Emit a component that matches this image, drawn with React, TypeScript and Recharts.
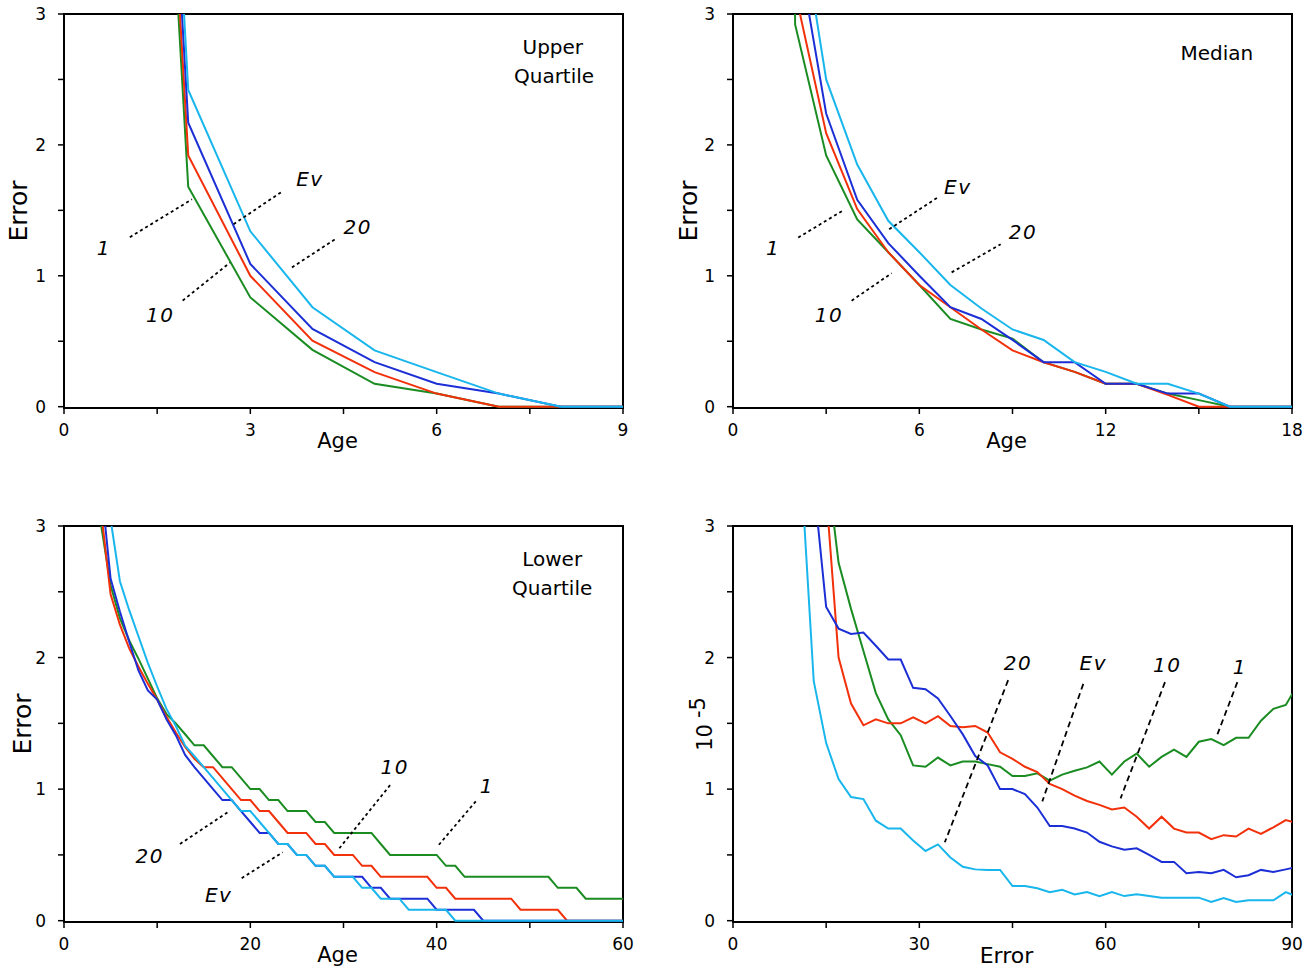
import React from "react";
import {
  LineChart,
  Line,
  XAxis,
  YAxis,
  ReferenceLine,
  ReferenceDot,
} from "recharts";

const FONT = '"DejaVu Sans", Verdana, sans-serif';
const GREEN = "#1a8c22";
const RED = "#f2300a";
const BLUE = "#1c2fd6";
const CYAN = "#18b6ec";

// Upper quartile panel
const uqAge = [1, 2, 3, 4, 5, 6, 7, 8, 9];
const uq1 = [10, 1.68, 0.835, 0.434, 0.175, 0.1, 0, 0, 0];
const uq10 = [10, 1.92, 1.0, 0.505, 0.264, 0.1, 0, 0, 0];
const uqEv = [10.4, 2.17, 1.09, 0.594, 0.34, 0.175, 0.1, 0, 0];
const uq20 = [11, 2.42, 1.34, 0.76, 0.43, 0.264, 0.1, 0, 0];

// Median panel
const medAge = [1, 2, 3, 4, 5, 6, 7, 8, 9, 10, 11, 12, 13, 14, 15, 16, 17, 18];
const med1 = [40, 2.92, 1.92, 1.43, 1.18, 0.93, 0.67, 0.59, 0.52, 0.34, 0.266, 0.175, 0.175, 0.1, 0.05, 0, 0, 0];
const med10 = [30, 3.17, 2.09, 1.51, 1.18, 0.93, 0.76, 0.59, 0.43, 0.34, 0.266, 0.175, 0.175, 0.09, 0, 0, 0, 0];
const medEv = [30, 3.62, 2.24, 1.58, 1.25, 1.0, 0.76, 0.67, 0.51, 0.34, 0.34, 0.175, 0.175, 0.1, 0.1, 0, 0, 0];
const med20 = [30, 4.0, 2.5, 1.85, 1.42, 1.18, 0.93, 0.75, 0.59, 0.51, 0.34, 0.266, 0.175, 0.175, 0.1, 0, 0, 0];

// Lower quartile panel
const lqAge = [
  3, 4, 5, 6, 7, 8, 9, 10,
  11, 12, 13, 14, 15, 16, 17, 18, 19, 20,
  21, 22, 23, 24, 25, 26, 27, 28, 29, 30,
  31, 32, 33, 34, 35, 36, 37, 38, 39, 40,
  41, 42, 43, 44, 45, 46, 47, 48, 49, 50,
  51, 52, 53, 54, 55, 56, 57, 58, 59, 60,
];
const lq1 = [
  3.6, 3.0, 2.55, 2.3, 2.13, 1.99, 1.84, 1.69,
  1.57, 1.5, 1.417, 1.333, 1.333, 1.25, 1.167, 1.167, 1.083, 1.0,
  1.0, 0.917, 0.917, 0.833, 0.833, 0.833, 0.75, 0.75, 0.667, 0.667,
  0.667, 0.667, 0.667, 0.583, 0.5, 0.5, 0.5, 0.5, 0.5, 0.5,
  0.417, 0.417, 0.333, 0.333, 0.333, 0.333, 0.333, 0.333, 0.333, 0.333,
  0.333, 0.333, 0.25, 0.25, 0.25, 0.167, 0.167, 0.167, 0.167, 0.167,
];
const lq10 = [
  3.8, 3.1, 2.48, 2.25, 2.07, 1.93, 1.8, 1.68,
  1.55, 1.43, 1.32, 1.23, 1.167, 1.167, 1.083, 1.0, 0.917, 0.917,
  0.833, 0.833, 0.75, 0.667, 0.667, 0.667, 0.583, 0.583, 0.5, 0.5,
  0.5, 0.417, 0.417, 0.333, 0.333, 0.333, 0.333, 0.333, 0.333, 0.25,
  0.25, 0.167, 0.167, 0.167, 0.167, 0.167, 0.167, 0.167, 0.083, 0.083,
  0.083, 0.083, 0.083, 0, 0, 0, 0, 0, 0, 0,
];
const lqEv = [
  4.0, 3.3, 2.6, 2.35, 2.12, 1.9, 1.75, 1.68,
  1.53, 1.41, 1.26, 1.167, 1.083, 1.0, 0.917, 0.917, 0.833, 0.75,
  0.667, 0.667, 0.583, 0.583, 0.5, 0.5, 0.417, 0.417, 0.333, 0.333,
  0.333, 0.333, 0.25, 0.25, 0.167, 0.167, 0.167, 0.167, 0.167, 0.083,
  0.083, 0.083, 0.083, 0.083, 0, 0, 0, 0, 0, 0,
  0, 0, 0, 0, 0, 0, 0, 0, 0, 0,
];
const lq20 = [
  4.6, 3.8, 3.05, 2.58, 2.36, 2.16, 1.96, 1.78,
  1.61, 1.48, 1.33, 1.25, 1.167, 1.083, 1.0, 0.917, 0.833, 0.833,
  0.75, 0.667, 0.583, 0.583, 0.5, 0.5, 0.417, 0.417, 0.333, 0.333,
  0.333, 0.25, 0.25, 0.167, 0.167, 0.167, 0.083, 0.083, 0.083, 0.083,
  0.083, 0, 0, 0, 0, 0, 0, 0, 0, 0,
  0, 0, 0, 0, 0, 0, 0, 0, 0, 0,
];

// Error panel (x 10^-5)
const errX = [
  9, 11, 13, 15, 17, 19, 21, 23, 25, 27,
  29, 31, 33, 35, 37, 39, 41, 43, 45, 47,
  49, 51, 53, 55, 57, 59, 61, 63, 65, 67,
  69, 71, 73, 75, 77, 79, 81, 83, 85, 87,
  89, 91,
];
const err1 = [
  20, 10, 5, 3.5, 2.72, 2.37, 2.05, 1.73, 1.53, 1.41,
  1.18, 1.17, 1.24, 1.18, 1.21, 1.21, 1.19, 1.17, 1.1, 1.1,
  1.12, 1.065, 1.11, 1.14, 1.165, 1.21, 1.11, 1.21, 1.27, 1.17,
  1.245, 1.3, 1.245, 1.36, 1.38, 1.335, 1.39, 1.39, 1.52, 1.61,
  1.64, 1.8,
];
const err10 = [
  15, 10, 6, 3.25, 2.0, 1.65, 1.485, 1.53, 1.5, 1.5,
  1.545, 1.5, 1.555, 1.48, 1.47, 1.48, 1.43, 1.28, 1.23, 1.17,
  1.13, 1.04, 1.0, 0.95, 0.91, 0.88, 0.845, 0.86, 0.79, 0.7,
  0.79, 0.7, 0.67, 0.67, 0.62, 0.65, 0.64, 0.7, 0.66, 0.71,
  0.765, 0.74,
];
const errEv = [
  8, 5, 3.33, 2.384, 2.22, 2.18, 2.19, 2.09, 1.985, 1.985,
  1.77, 1.76, 1.69, 1.556, 1.416, 1.252, 1.18, 1.0, 1.0, 0.962,
  0.86, 0.72, 0.72, 0.7, 0.67, 0.6, 0.565, 0.54, 0.55, 0.5,
  0.447, 0.447, 0.36, 0.37, 0.36, 0.386, 0.33, 0.346, 0.386, 0.37,
  0.39, 0.41,
];
const err20 = [
  6, 3.4, 1.82, 1.35, 1.076, 0.94, 0.924, 0.76, 0.7, 0.7,
  0.61, 0.53, 0.58, 0.48, 0.41, 0.39, 0.386, 0.386, 0.263, 0.263,
  0.247, 0.217, 0.235, 0.2, 0.217, 0.187, 0.217, 0.187, 0.2, 0.187,
  0.175, 0.175, 0.175, 0.175, 0.142, 0.172, 0.142, 0.155, 0.155, 0.155,
  0.217, 0.18,
];

const Y_TICKS = [0, 0.5, 1, 1.5, 2, 2.5, 3];
// a hair below zero so the flat zero-level runs show above the frame edge
const Y_DOMAIN: [number, number] = [-0.01, 3];

type Note = { text: string; x: number; y: number; italic?: boolean };
type Leader = { x1: number; y1: number; x2: number; y2: number };

interface PanelProps {
  left: number;
  top: number;
  plotH: number;
  xs: number[];
  s1: number[];
  s10: number[];
  sEv: number[];
  s20: number[];
  xMax: number;
  xTicks: number[];
  xEvery: number;
  xTitle: string;
  xTitleSize: number;
  yTitle: "error" | "exp";
  yTitleX: number;
  notes: Note[];
  leaders: Leader[];
  dash: string;
}

function XTitle(props: any) {
  const vb = props.viewBox;
  return (
    <text
      x={vb.x + vb.width / 2 - 6}
      y={vb.y + 33}
      textAnchor="middle"
      dominantBaseline="central"
      fontSize={props.size}
      fontFamily={FONT}
      fill="#000"
    >
      {props.text}
    </text>
  );
}

function YTitle(props: any) {
  const vb = props.viewBox;
  const cx = props.cx;
  const cy = vb.y + vb.height / 2;
  if (props.kind === "exp") {
    return (
      <text
        x={cx}
        y={cy}
        transform={`rotate(-90 ${cx} ${cy})`}
        textAnchor="middle"
        dominantBaseline="central"
        fontSize={21}
        fontFamily={FONT}
        fill="#000"
      >
        <tspan>10</tspan>
        <tspan dx={6} dy={-7}>-5</tspan>
      </text>
    );
  }
  return (
    <text
      x={cx}
      y={cy}
      transform={`rotate(-90 ${cx} ${cy})`}
      textAnchor="middle"
      dominantBaseline="central"
      fontSize={25}
      fontFamily={FONT}
      fill="#000"
    >
      Error
    </text>
  );
}

function Panel(p: PanelProps) {
  const rows = p.xs.map((x, i) => ({
    x,
    s1: p.s1[i],
    s10: p.s10[i],
    sEv: p.sEv[i],
    s20: p.s20[i],
  }));
  const tickStyle = { fill: "#000", fontSize: 17, fontFamily: FONT };
  return (
    <div style={{ position: "absolute", left: p.left, top: p.top }}>
      {/* plot frame sits behind the svg so zero-level segments stay visible */}
      <div
        style={{
          position: "absolute",
          left: 63,
          top: 13,
          width: 561,
          height: p.plotH + 2,
          border: "2px solid #000",
          boxSizing: "border-box",
        }}
      />
      <LineChart
        width={643}
        height={p.plotH + 74}
        data={rows}
        margin={{ top: 14, right: 20, bottom: 0, left: 0 }}
      >
        <XAxis
          type="number"
          dataKey="x"
          domain={[0, p.xMax]}
          allowDataOverflow
          ticks={p.xTicks}
          interval={0}
          tickFormatter={(v: number) => (v % p.xEvery === 0 ? String(v) : "")}
          height={60}
          axisLine={false}
          tickLine={{ stroke: "#000", strokeWidth: 1.5 }}
          tickSize={6}
          tickMargin={10}
          tick={tickStyle}
          label={{
            content: (lp: any) => (
              <XTitle {...lp} text={p.xTitle} size={p.xTitleSize} />
            ),
          }}
        />
        <YAxis
          type="number"
          domain={Y_DOMAIN}
          allowDataOverflow
          ticks={Y_TICKS}
          interval={0}
          tickFormatter={(v: number) => (Number.isInteger(v) ? String(v) : "")}
          width={64}
          axisLine={false}
          tickLine={{ stroke: "#000", strokeWidth: 1.5 }}
          tickSize={6}
          tickMargin={12}
          tick={tickStyle}
          label={{
            content: (lp: any) => (
              <YTitle {...lp} kind={p.yTitle} cx={p.yTitleX} />
            ),
          }}
        />
        <Line type="linear" dataKey="s1" stroke={GREEN} strokeWidth={2} dot={false} isAnimationActive={false} />
        <Line type="linear" dataKey="s10" stroke={RED} strokeWidth={2} dot={false} isAnimationActive={false} />
        <Line type="linear" dataKey="sEv" stroke={BLUE} strokeWidth={2} dot={false} isAnimationActive={false} />
        <Line type="linear" dataKey="s20" stroke={CYAN} strokeWidth={2} dot={false} isAnimationActive={false} />
        {p.leaders.map((l, i) => (
          <ReferenceLine
            key={"l" + i}
            segment={[
              { x: l.x1, y: l.y1 },
              { x: l.x2, y: l.y2 },
            ]}
            stroke="#000"
            strokeWidth={1.8}
            strokeDasharray={p.dash}
          />
        ))}
        {p.notes.map((n, i) => (
          <ReferenceDot
            key={"n" + i}
            x={n.x}
            y={n.y}
            r={0}
            ifOverflow="visible"
            shape={(sp: any) => (
              <text
                x={sp.cx}
                y={sp.cy}
                textAnchor="middle"
                dominantBaseline="central"
                fontSize={20}
                fontFamily={FONT}
                fontStyle={n.italic ? "italic" : "normal"}
                letterSpacing={n.italic ? 1.5 : 0}
                fill="#000"
              >
                {n.text}
              </text>
            )}
          />
        ))}
      </LineChart>
    </div>
  );
}

const uqNotes: Note[] = [
  { text: "Upper", x: 7.87, y: 2.75 },
  { text: "Quartile", x: 7.89, y: 2.53 },
  { text: "1", x: 0.64, y: 1.21, italic: true },
  { text: "Ev", x: 3.96, y: 1.736, italic: true },
  { text: "20", x: 4.73, y: 1.371, italic: true },
  { text: "10", x: 1.55, y: 0.7, italic: true },
];
const uqLeaders: Leader[] = [
  { x1: 1.06, y1: 1.295, x2: 2.06, y2: 1.584 },
  { x1: 2.73, y1: 1.394, x2: 3.5, y2: 1.64 },
  { x1: 3.67, y1: 1.064, x2: 4.38, y2: 1.284 },
  { x1: 1.91, y1: 0.81, x2: 2.67, y2: 1.1 },
];

const medNotes: Note[] = [
  { text: "Median", x: 15.58, y: 2.7 },
  { text: "1", x: 1.29, y: 1.21, italic: true },
  { text: "Ev", x: 7.24, y: 1.676, italic: true },
  { text: "20", x: 9.34, y: 1.333, italic: true },
  { text: "10", x: 3.09, y: 0.7, italic: true },
];
const medLeaders: Leader[] = [
  { x1: 2.1, y1: 1.292, x2: 3.55, y2: 1.5 },
  { x1: 5.03, y1: 1.356, x2: 6.58, y2: 1.597 },
  { x1: 7.04, y1: 1.026, x2: 8.62, y2: 1.241 },
  { x1: 3.82, y1: 0.81, x2: 5.11, y2: 1.02 },
];

const lqNotes: Note[] = [
  { text: "Lower", x: 52.4, y: 2.75 },
  { text: "Quartile", x: 52.4, y: 2.53 },
  { text: "10", x: 35.5, y: 1.167, italic: true },
  { text: "1", x: 45.4, y: 1.023, italic: true },
  { text: "20", x: 9.2, y: 0.49, italic: true },
  { text: "Ev", x: 16.6, y: 0.197, italic: true },
];
const lqLeaders: Leader[] = [
  { x1: 35.0, y1: 1.03, x2: 29.55, y2: 0.55 },
  { x1: 44.2, y1: 0.907, x2: 40.07, y2: 0.563 },
  { x1: 12.45, y1: 0.583, x2: 17.82, y2: 0.836 },
  { x1: 19.07, y1: 0.323, x2: 23.47, y2: 0.52 },
];

const errNotes: Note[] = [
  { text: "20", x: 45.9, y: 1.962, italic: true },
  { text: "Ev", x: 58.0, y: 1.962, italic: true },
  { text: "10", x: 69.9, y: 1.947, italic: true },
  { text: "1", x: 81.6, y: 1.93, italic: true },
];
const errLeaders: Leader[] = [
  { x1: 44.3, y1: 1.828, x2: 34.1, y2: 0.596 },
  { x1: 56.4, y1: 1.8, x2: 49.8, y2: 0.907 },
  { x1: 69.55, y1: 1.813, x2: 62.4, y2: 0.93 },
  { x1: 81.2, y1: 1.813, x2: 78.0, y2: 1.417 },
];

export default function App() {
  return (
    <div
      style={{
        position: "absolute",
        left: 0,
        top: 0,
        width: 1313,
        height: 970,
        background: "#fff",
        fontFamily: FONT,
      }}
    >
      <Panel
        left={0}
        top={0}
        plotH={394}
        xs={uqAge}
        s1={uq1}
        s10={uq10}
        sEv={uqEv}
        s20={uq20}
        xMax={9}
        xTicks={[0, 1.5, 3, 4.5, 6, 7.5, 9]}
        xEvery={3}
        xTitle="Age"
        xTitleSize={21}
        yTitle="error"
        yTitleX={18}
        notes={uqNotes}
        leaders={uqLeaders}
        dash="3 3"
      />
      <Panel
        left={669}
        top={0}
        plotH={394}
        xs={medAge}
        s1={med1}
        s10={med10}
        sEv={medEv}
        s20={med20}
        xMax={18}
        xTicks={[0, 3, 6, 9, 12, 15, 18]}
        xEvery={6}
        xTitle="Age"
        xTitleSize={21}
        yTitle="error"
        yTitleX={19}
        notes={medNotes}
        leaders={medLeaders}
        dash="3 3"
      />
      <Panel
        left={0}
        top={512}
        plotH={396}
        xs={lqAge}
        s1={lq1}
        s10={lq10}
        sEv={lqEv}
        s20={lq20}
        xMax={60}
        xTicks={[0, 10, 20, 30, 40, 50, 60]}
        xEvery={20}
        xTitle="Age"
        xTitleSize={21}
        yTitle="error"
        yTitleX={22}
        notes={lqNotes}
        leaders={lqLeaders}
        dash="3 3"
      />
      <Panel
        left={669}
        top={512}
        plotH={396}
        xs={errX}
        s1={err1}
        s10={err10}
        sEv={errEv}
        s20={err20}
        xMax={90}
        xTicks={[0, 15, 30, 45, 60, 75, 90]}
        xEvery={30}
        xTitle="Error"
        xTitleSize={22}
        yTitle="exp"
        yTitleX={36}
        notes={errNotes}
        leaders={errLeaders}
        dash="6 4"
      />
    </div>
  );
}
